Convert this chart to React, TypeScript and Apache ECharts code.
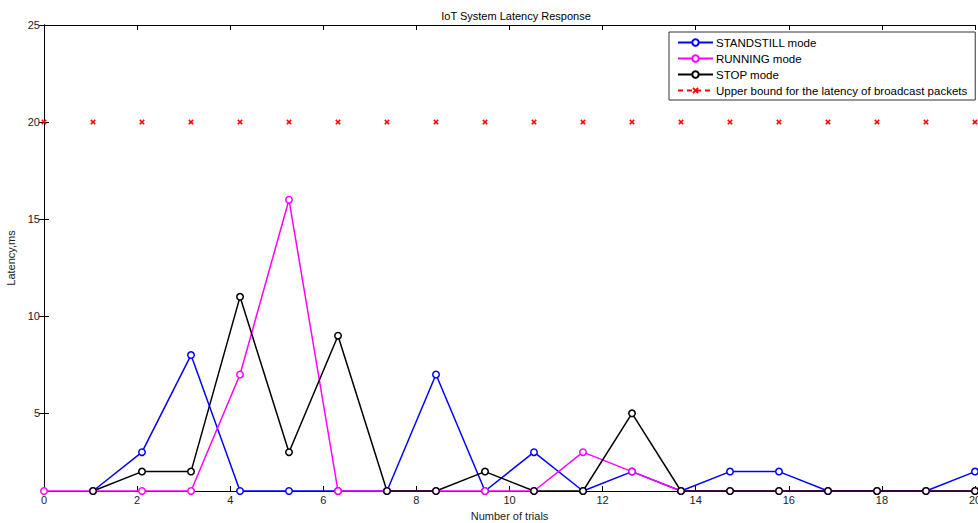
import React, { useEffect, useRef } from "react";
import * as echarts from "echarts";

const trialX = [0, 1.053, 2.105, 3.158, 4.211, 5.263, 6.316, 7.368, 8.421, 9.474, 10.526, 11.579, 12.632, 13.684, 14.737, 15.789, 16.842, 17.895, 18.947, 20];
const standstill = [null, 1, 3, 8, 1, 1, 1, 1, 7, 1, 3, 1, 2, 1, 2, 2, 1, 1, 1, 2];
const running = [1, 1, 1, 1, 7, 16, 1, 1, 1, 1, 1, 3, 2, 1, 1, 1, 1, 1, 1, 1];
const stop = [null, 1, 2, 2, 11, 3, 9, 1, 1, 2, 1, 1, 5, 1, 1, 1, 1, 1, 1, 1];
const upperBound = [20, 20, 20, 20, 20, 20, 20, 20, 20, 20, 20, 20, 20, 20, 20, 20, 20, 20, 20, 20];
const yTicks = [5, 10, 15, 20, 25];

const names = [
  "STANDSTILL mode",
  "RUNNING mode",
  "STOP mode",
  "Upper bound for the latency of broadcast packets",
];

const pairs = (ys: (number | null)[]) =>
  ys.map((y, i) => (y === null ? null : [trialX[i], y])).filter((p) => p !== null);

const FONT = "Liberation Sans, Arial, sans-serif";
const X_SYMBOL = "path://M0,2L2,0L5,3L8,0L10,2L7,5L10,8L8,10L5,7L2,10L0,8L3,5Z";

export default function App() {
  const ref = useRef<HTMLDivElement>(null);
  useEffect(() => {
    const chart = echarts.init(ref.current!, null, { renderer: "svg" });
    const circleSeries = (name: string, color: string, ys: (number | null)[]) => ({
      name,
      type: "line",
      data: pairs(ys),
      symbol: "circle",
      symbolSize: 6.5,
      showAllSymbol: true,
      lineStyle: { color, width: 1.5 },
      itemStyle: { color: "#fff", borderColor: color, borderWidth: 1.5 },
      clip: false,
    });
    chart.setOption({
      animation: false,
      textStyle: { fontFamily: FONT },
      title: {
        text: "IoT System Latency Response",
        left: 511,
        top: 5,
        textAlign: "center",
        textStyle: { fontSize: 11, fontWeight: "normal", color: "#000", fontFamily: FONT },
      },
      legend: {
        orient: "vertical",
        left: 669,
        top: 32,
        padding: [4, 8, 3, 8],
        itemGap: 3,
        itemWidth: 35,
        itemHeight: 8,
        borderColor: "#333",
        borderWidth: 1,
        backgroundColor: "#fff",
        textStyle: { fontSize: 11.5, color: "#000", lineHeight: 13, fontFamily: FONT, padding: [0, 0, 0, -2] },
        data: [
          { name: names[0] },
          { name: names[1] },
          { name: names[2] },
          { name: names[3] },
        ],
      },
      grid: { left: 44, right: 3, top: 25, bottom: 32, outerBoundsMode: "none", containLabel: false },
      xAxis: [
        {
          type: "value",
          min: 0,
          max: 20,
          interval: 2,
          name: "Number of trials",
          nameLocation: "middle",
          nameGap: 19,
          nameTextStyle: { fontSize: 11, color: "#222", fontFamily: FONT },
          axisLine: { lineStyle: { color: "#000", width: 1 } },
          axisTick: { inside: true, length: 5, lineStyle: { color: "#000" } },
          axisLabel: { fontSize: 11, color: "#222", margin: 3, fontFamily: FONT },
          splitLine: { show: false },
        },
        {
          type: "value",
          position: "top",
          min: 0,
          max: 20,
          interval: 2,
          axisLine: { lineStyle: { color: "#000", width: 1 } },
          axisTick: { inside: true, length: 5, lineStyle: { color: "#000" } },
          axisLabel: { show: false },
          splitLine: { show: false },
        },
      ],
      yAxis: [
        {
          type: "value",
          min: 1,
          max: 25,
          name: "Latency,ms",
          nameLocation: "middle",
          nameGap: 24,
          nameTextStyle: { fontSize: 11, color: "#222", fontFamily: FONT },
          axisLine: { show: true, lineStyle: { color: "#000", width: 1 } },
          axisTick: { show: true, inside: true, length: 5, customValues: yTicks, lineStyle: { color: "#000" } },
          axisLabel: { fontSize: 11, color: "#222", margin: 4, customValues: yTicks, fontFamily: FONT },
          splitLine: { show: false },
        },
        {
          type: "value",
          position: "right",
          min: 1,
          max: 25,
          axisLine: { show: true, lineStyle: { color: "#000", width: 1 } },
          axisTick: { show: true, inside: true, length: 5, customValues: yTicks, lineStyle: { color: "#000" } },
          axisLabel: { show: false },
          splitLine: { show: false },
        },
      ],
      series: [
        circleSeries(names[0], "#0000ff", standstill),
        circleSeries(names[1], "#ff00ff", running),
        circleSeries(names[2], "#000000", stop),
        {
          name: names[3],
          type: "line",
          data: [],
          symbol: X_SYMBOL,
          symbolSize: 6,
          lineStyle: { color: "#f00", width: 1.5, type: [5, 4] },
          itemStyle: { color: "#f00" },
        },
        {
          name: names[3],
          type: "line",
          data: pairs(upperBound),
          symbol: X_SYMBOL,
          symbolSize: 5.5,
          showAllSymbol: true,
          lineStyle: { color: "#f00", width: 0, opacity: 0 },
          itemStyle: { color: "#f00" },
          clip: false,
          z: 5,
        },
      ],
    });
    return () => chart.dispose();
  }, []);
  return (
    <div
      ref={ref}
      style={{ position: "absolute", left: 0, top: 0, width: 978, height: 523, background: "#fff" }}
    />
  );
}
